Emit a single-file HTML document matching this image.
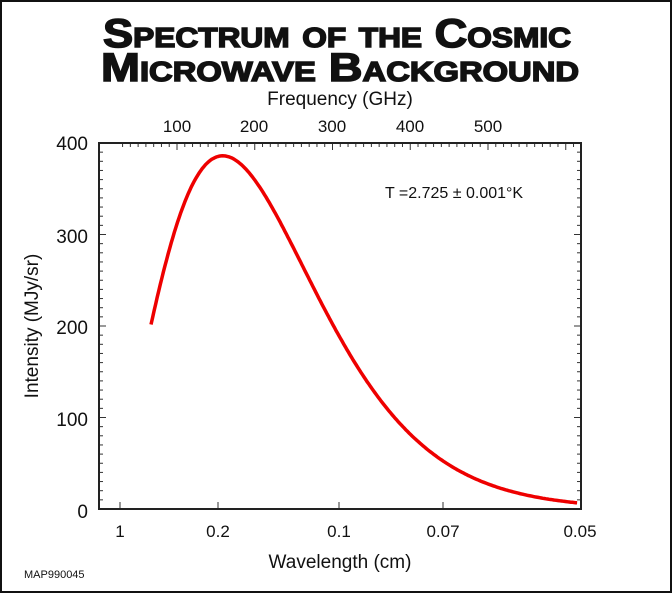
<!DOCTYPE html>
<html><head><meta charset="utf-8"><style>
html,body{margin:0;padding:0;background:#fff}
svg{display:block}
text{font-family:"Liberation Sans",sans-serif;fill:#111}
</style></head><body>
<svg id="s" width="672" height="593" viewBox="0 0 672 593" xmlns="http://www.w3.org/2000/svg">
<rect x="1" y="1" width="670" height="591" fill="#fff" stroke="#111" stroke-width="2"/>
<text x="337" y="47" text-anchor="middle" font-size="40" font-weight="bold" style="font-variant:small-caps" textLength="468" lengthAdjust="spacingAndGlyphs" stroke="#111" stroke-width="1.5">Spectrum of the Cosmic</text>
<text x="340" y="81" text-anchor="middle" font-size="40" font-weight="bold" style="font-variant:small-caps" textLength="478" lengthAdjust="spacingAndGlyphs" stroke="#111" stroke-width="1.5">Microwave Background</text>
<text x="340" y="105" text-anchor="middle" font-size="19">Frequency (GHz)</text>
<g font-size="17" text-anchor="middle">
<text x="177" y="132">100</text><text x="254" y="132">200</text><text x="332" y="132">300</text><text x="410" y="132">400</text><text x="488" y="132">500</text>
<text x="120" y="537">1</text><text x="218" y="537">0.2</text><text x="339" y="537">0.1</text><text x="443" y="537">0.07</text><text x="580" y="537">0.05</text>
</g>
<g font-size="19" text-anchor="end">
<text x="88" y="150">400</text><text x="88" y="243">300</text><text x="88" y="334">200</text><text x="88" y="426">100</text><text x="88" y="518">0</text>
</g>
<text x="340" y="568" text-anchor="middle" font-size="19">Wavelength (cm)</text>
<text transform="translate(38,326) rotate(-90)" text-anchor="middle" font-size="19">Intensity (MJy/sr)</text>
<text x="24" y="578" font-size="11">MAP990045</text>
<text x="385" y="198" font-size="16">T =2.725 ± 0.001°K</text>
<g id="ticks" stroke="#333" stroke-width="1"></g>
<rect x="99" y="143" width="482" height="366" fill="none" stroke="#222" stroke-width="2"/>
<path id="c" fill="none" stroke="#e00" stroke-width="3.5"/>
</svg>
<script>
var g=document.getElementById('ticks'),h='';
function L(a,b,c,d){h+='<line x1="'+a+'" y1="'+b+'" x2="'+c+'" y2="'+d+'"/>';}
for(var v=0;v<=400;v+=10){var y=509-v*0.915,l=(v%100==0)?7:4;L(99,y,99+l,y);L(581,y,581-l,y);}
for(var f=30;f<=620;f+=10){var x=177+(f-100)*0.7775;if(x<100||x>580)continue;var l=(f%100==0)?7:4;L(x,143,x,143+l);}
[120,218,339,443].forEach(function(x){L(x,509,x,502);});
g.innerHTML=h;
function P(n){var x=n/56.8;return x*x*x/(Math.exp(x)-1);}
var pk=P(160.2),d='';
for(var n=68;n<=616;n+=2){var x=151+(n-68)*0.7775,y=509-P(n)/pk*386*0.915;d+=(d?'L':'M')+x.toFixed(1)+' '+y.toFixed(1);}
document.getElementById('c').setAttribute('d',d);
</script>
</body></html>
